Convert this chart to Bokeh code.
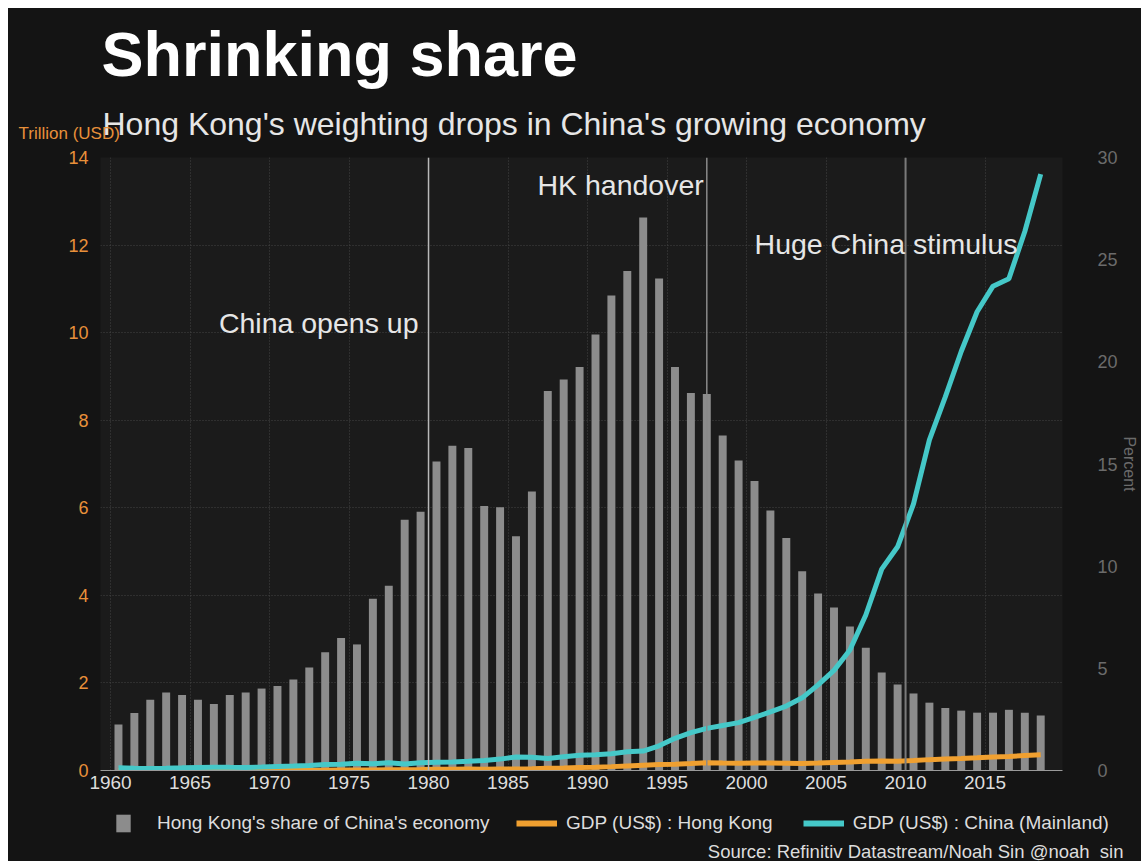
from bokeh.plotting import figure
from bokeh.layouts import column, row, Spacer
from bokeh.models import (Range1d, LinearAxis, FixedTicker, Span, Label, Legend,
                          LegendItem, ColumnDataSource)
from bokeh.embed import file_html
from bokeh.resources import INLINE

# ---------------- data ----------------
years = list(range(1960, 2019))

hk_share_pct = [2.25, 2.82, 3.46, 3.82, 3.70, 3.46, 3.26, 3.70, 3.82, 4.01,
                4.14, 4.45, 5.04, 5.79, 6.49, 6.17, 8.40, 9.04, 12.27, 12.66,
                15.12, 15.89, 15.78, 12.94, 12.88, 11.47, 13.65, 18.57, 19.13, 19.75,
                21.34, 23.25, 24.45, 27.06, 24.08, 19.75, 18.47, 18.43, 16.39, 15.17,
                14.17, 12.72, 11.38, 9.75, 8.66, 7.98, 7.05, 6.01, 4.80, 4.21,
                3.77, 3.32, 3.06, 2.93, 2.83, 2.83, 2.97, 2.83, 2.69]

china_gdp_tn = [0.060, 0.050, 0.047, 0.051, 0.060, 0.070, 0.077, 0.073, 0.071, 0.080,
                0.093, 0.100, 0.114, 0.139, 0.144, 0.163, 0.154, 0.175, 0.150, 0.178,
                0.191, 0.196, 0.209, 0.230, 0.260, 0.309, 0.301, 0.273, 0.312, 0.348,
                0.361, 0.383, 0.427, 0.445, 0.564, 0.735, 0.864, 0.962, 1.029, 1.094,
                1.211, 1.339, 1.471, 1.660, 1.955, 2.286, 2.752, 3.552, 4.598, 5.110,
                6.087, 7.552, 8.532, 9.570, 10.476, 11.062, 11.233, 12.310, 13.62]

hk_gdp_tn = [0.0013, 0.0014, 0.0016, 0.0019, 0.0021, 0.0024, 0.0026, 0.0029, 0.0030, 0.0035,
             0.0040, 0.0047, 0.0059, 0.0083, 0.0099, 0.0106, 0.0140, 0.0173, 0.0184, 0.0225,
             0.0288, 0.0311, 0.0325, 0.0298, 0.0335, 0.0351, 0.0410, 0.0506, 0.0595, 0.0687,
             0.0768, 0.0885, 0.1043, 0.1204, 0.1358, 0.1447, 0.1594, 0.1772, 0.1689, 0.1651,
             0.1718, 0.1695, 0.1664, 0.1614, 0.1697, 0.1816, 0.1937, 0.2116, 0.2193, 0.2140,
             0.2286, 0.2483, 0.2621, 0.2751, 0.2915, 0.3097, 0.3209, 0.3412, 0.3617]

left_ticks = [0, 2, 4, 6, 8, 10, 12, 14]
right_ticks = [0, 5, 10, 15, 20, 25, 30]
x_ticks = list(range(1960, 2016, 5))

event_names = ["China opens up", "HK handover", "Huge China stimulus"]
event_years = [1980.0, 1997.5, 2010.0]

FONT = "Liberation Sans"
BG = "#141414"
W = 1133

# mid-year positions for the yearly series
mid = [y + 0.5 for y in years]
src = ColumnDataSource(dict(x=mid, share=hk_share_pct, china=china_gdp_tn, hk=hk_gdp_tn))


def text_fig(h):
    f = figure(width=W, height=h, output_backend="svg", toolbar_location=None,
               x_axis_type=None, y_axis_type=None, min_border=0, frame_align=False,
               x_range=Range1d(0, W), y_range=Range1d(0, h),
               background_fill_color=BG, border_fill_color=BG, outline_line_color=None)
    f.grid.visible = False
    return f


# ---------------- header ----------------
TOP_H = 137
top = text_fig(TOP_H)
top.add_layout(Label(x=93, y=92, x_units="screen", y_units="screen", text="Shrinking share",
                     text_font=FONT, text_font_style="bold", text_font_size="63px",
                     text_color="#ffffff", text_baseline="alphabetic"))
top.add_layout(Label(x=94, y=22, x_units="screen", y_units="screen",
                     text="Hong Kong's weighting drops in China's growing economy",
                     text_font=FONT, text_font_size="32px", text_color="#e6e6e6",
                     text_baseline="alphabetic"))
top.add_layout(Label(x=10, y=12, x_units="screen", y_units="screen", text="Trillion (USD)",
                     text_font=FONT, text_font_size="17px", text_color="#e8903a",
                     text_baseline="alphabetic"))

# ---------------- main chart ----------------
MAIN_H = 655
p = figure(width=W, height=MAIN_H, output_backend="svg", toolbar_location=None,
           x_range=Range1d(1959.37, 2019.87), y_range=Range1d(0, 14),
           min_border_left=92, min_border_right=79, min_border_top=12, min_border_bottom=30,
           background_fill_color="#1b1b1b", border_fill_color=BG,
           outline_line_color=None)
p.extra_y_ranges = {"pct": Range1d(0, 30)}

p.xgrid.ticker = FixedTicker(ticks=x_ticks)
p.ygrid.ticker = FixedTicker(ticks=left_ticks)
for g in (p.xgrid, p.ygrid):
    g.grid_line_color = "#454545"
    g.grid_line_dash = "1 2"
    g.grid_line_width = 1

xa = p.xaxis[0]
xa.ticker = FixedTicker(ticks=x_ticks)
xa.axis_line_color = "#9a9a9a"
xa.major_tick_line_color = None
xa.minor_tick_line_color = None
xa.major_tick_out = 0
xa.major_tick_in = 0
xa.major_label_text_color = "#dddddd"
xa.major_label_text_font = FONT
xa.major_label_text_font_size = "19px"
xa.major_label_standoff = 5

ya = p.yaxis[0]
ya.ticker = FixedTicker(ticks=left_ticks)
ya.axis_line_color = None
ya.major_tick_line_color = None
ya.minor_tick_line_color = None
ya.major_tick_out = 0
ya.major_tick_in = 0
ya.major_label_text_color = "#e8903a"
ya.major_label_text_font = FONT
ya.major_label_text_font_size = "18px"
ya.major_label_standoff = 12

ra = LinearAxis(y_range_name="pct", ticker=FixedTicker(ticks=right_ticks))
ra.axis_line_color = None
ra.major_tick_line_color = None
ra.minor_tick_line_color = None
ra.major_tick_out = 0
ra.major_tick_in = 0
ra.major_label_text_color = "#6b6b6b"
ra.major_label_text_font = FONT
ra.major_label_text_font_size = "18px"
ra.major_label_standoff = 35
ra.axis_label = "Percent"
ra.axis_label_text_color = "#6b6b6b"
ra.axis_label_text_font = FONT
ra.axis_label_text_font_style = "normal"
ra.axis_label_text_font_size = "16px"
ra.axis_label_standoff = 0
p.add_layout(ra, "right")

span_colors = ["#b8b8b8", "#8a8a8a", "#7a7a7a"]
span_widths = [1.5, 1.5, 2]
for loc, c, w in zip(event_years, span_colors, span_widths):
    p.add_layout(Span(location=loc, dimension="height", line_color=c, line_width=w))

p.vbar(x="x", top="share", width=0.5, source=src, y_range_name="pct",
       fill_color="#8c8c8c", line_color=None)
p.line(x="x", y="hk", source=src, line_color="#f0a030", line_width=5)
p.line(x="x", y="china", source=src, line_color="#45c8c8", line_width=5)

ann_y = [9.98, 13.12, 11.78]
ann_align = ["right", "right", "left"]
ann_xoff = [-10, -3, -151]
for t, x, y, al, xo in zip(event_names, event_years, ann_y, ann_align, ann_xoff):
    p.add_layout(Label(x=x, y=y, text=t, text_align=al, x_offset=xo, y_offset=11,
                       text_font=FONT, text_font_size="28.5px", text_color="#e6e6e6",
                       text_baseline="alphabetic"))

# ---------------- footer: legend + source ----------------
BOT_H = 61
bot = text_fig(BOT_H)
# legend proxies: same series, drawn outside this panel's visible range
r_bar = bot.vbar(x="x", top="share", width=0.5, source=src, fill_color="#8c8c8c", line_color=None)
r_hk = bot.line(x="x", y="hk", source=src, line_color="#f0a030", line_width=6)
r_cn = bot.line(x="x", y="china", source=src, line_color="#45c8c8", line_width=6)

leg_common = dict(orientation="horizontal", padding=0, margin=0, background_fill_alpha=0,
                  border_line_color=None, label_text_color="#dddddd", label_text_font=FONT,
                  label_text_font_size="19px", glyph_height=22, label_height=22)
leg1 = Legend(items=[LegendItem(label="Hong Kong's share of China's economy", renderers=[r_bar])],
              location=(106, 27), glyph_width=18, label_standoff=25, **leg_common)
leg2 = Legend(items=[LegendItem(label="GDP (US$) : Hong Kong", renderers=[r_hk]),
                     LegendItem(label="GDP (US$) : China (Mainland)", renderers=[r_cn])],
              location=(508, 27), glyph_width=41, label_standoff=9, spacing=30, **leg_common)
bot.add_layout(leg1)
bot.add_layout(leg2)
bot.add_layout(Label(x=1115, y=10, x_units="screen", y_units="screen",
                     text="Source: Refinitiv Datastream/Noah Sin @noah_sin",
                     text_align="right", text_baseline="alphabetic",
                     text_font=FONT, text_font_size="18.5px", text_color="#dddddd"))

inner = column(top, p, bot, spacing=0, styles={"background-color": BG})
layout = column(Spacer(height=8), row(Spacer(width=8), inner, spacing=0), spacing=0)

open("out.html", "w").write(file_html(layout, INLINE))
